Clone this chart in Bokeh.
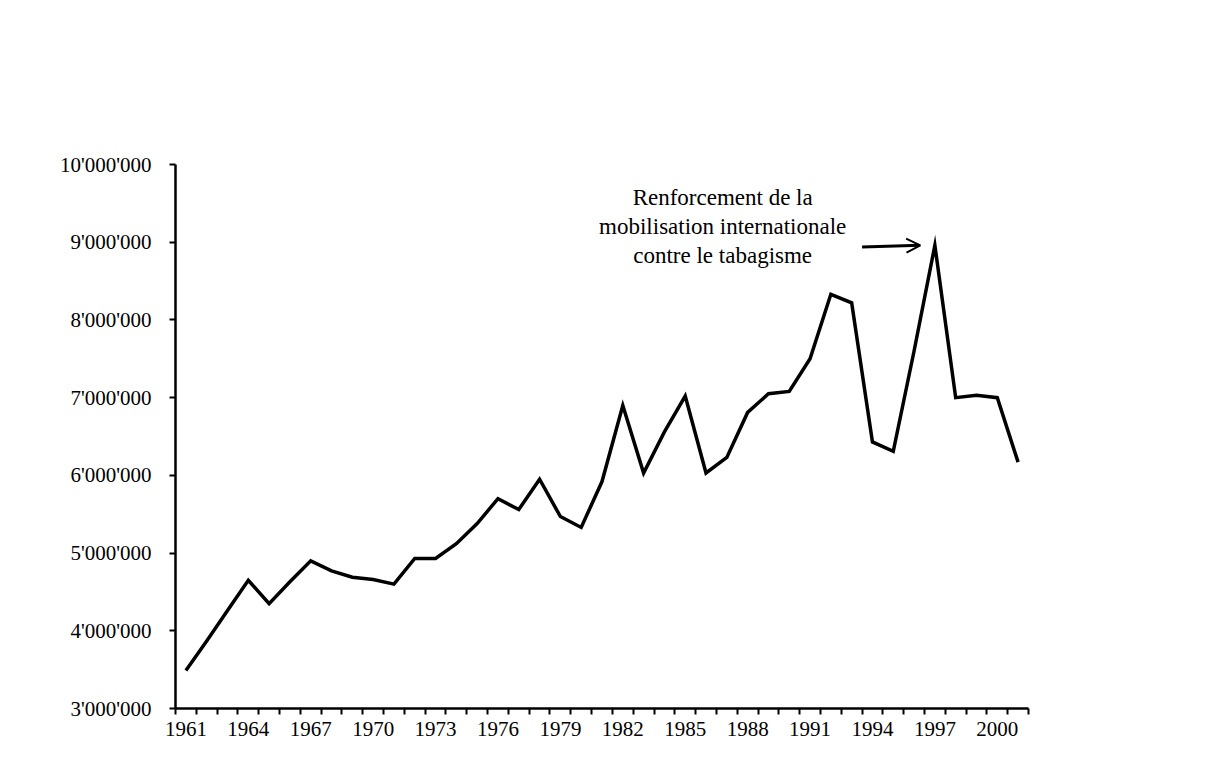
from bokeh.plotting import figure
from bokeh.models import Range1d, FixedTicker, Arrow, OpenHead
from bokeh.core.properties import value
from bokeh.embed import file_html
from bokeh.resources import INLINE

# ---- data ----
years = list(range(1961, 2002))
values = [3.49e6, 3.87e6, 4.26e6, 4.65e6, 4.35e6, 4.63e6, 4.90e6, 4.77e6, 4.69e6, 4.66e6,
          4.60e6, 4.93e6, 4.93e6, 5.12e6, 5.38e6, 5.70e6, 5.56e6, 5.95e6, 5.47e6, 5.33e6,
          5.92e6, 6.90e6, 6.03e6, 6.56e6, 7.02e6, 6.03e6, 6.23e6, 6.81e6, 7.05e6, 7.08e6,
          7.50e6, 8.33e6, 8.22e6, 6.43e6, 6.31e6, 7.60e6, 8.96e6, 7.00e6, 7.03e6, 7.00e6,
          6.17e6]
x_tick_years = list(range(1961, 2001, 3))
y_ticks = [3e6, 4e6, 5e6, 6e6, 7e6, 8e6, 9e6, 10e6]
y_tick_labels = ["3'000'000", "4'000'000", "5'000'000", "6'000'000",
                 "7'000'000", "8'000'000", "9'000'000", "10'000'000"]
annotation_lines = ["Renforcement de la", "mobilisation internationale", "contre le tabagisme"]
annotation_x = [1986.8, 1986.8, 1986.8]
annotation_y = [9.577e6, 9.203e6, 8.830e6]
arrow_from = (1993.5, 8.94e6)
arrow_to = (1996.3, 8.96e6)

FONT = "Liberation Serif"

p = figure(frame_width=853, frame_height=544,
           min_border_left=175, min_border_right=150,
           min_border_top=164, min_border_bottom=40,
           output_backend="svg", toolbar_location=None,
           x_range=Range1d(years[0] - 0.5, years[-1] + 0.5),
           y_range=Range1d(y_ticks[0], y_ticks[-1]))
p.outline_line_color = None
p.grid.visible = False
p.background_fill_color = "white"
p.border_fill_color = "white"

p.line(years, values, line_color="black", line_width=3.5, line_join="miter")

# x axis: labels every 3 years at category centres, small ticks at category boundaries
xa = p.xaxis[0]
xa.ticker = FixedTicker(ticks=x_tick_years,
                        minor_ticks=[y - 0.5 for y in years] + [years[-1] + 0.5])
xa.major_tick_out = 0
xa.major_tick_in = 0
xa.minor_tick_out = 6
xa.minor_tick_in = 0
xa.minor_tick_line_color = "black"
xa.minor_tick_line_width = 2
xa.axis_line_width = 2.5
xa.axis_line_color = "black"
xa.major_label_text_font = FONT
xa.major_label_text_font_size = "21px"
xa.major_label_text_color = "black"
xa.major_label_standoff = 7

ya = p.yaxis[0]
ya.ticker = FixedTicker(ticks=y_ticks)
ya.major_label_overrides = {t: lab for t, lab in zip(y_ticks, y_tick_labels)}
ya.major_tick_out = 6
ya.major_tick_in = 0
ya.major_tick_line_width = 2
ya.minor_tick_out = 0
ya.minor_tick_in = 0
ya.axis_line_width = 2.5
ya.axis_line_color = "black"
ya.major_label_text_font = FONT
ya.major_label_text_font_size = "21px"
ya.major_label_text_color = "black"
ya.major_label_standoff = 18

p.text(annotation_x, annotation_y, text=annotation_lines,
       text_font=value(FONT), text_font_size="23px", text_color="black",
       text_align="center", text_baseline="middle")

p.add_layout(Arrow(end=OpenHead(size=14, line_width=2, line_color="black"),
                   x_start=arrow_from[0], y_start=arrow_from[1],
                   x_end=arrow_to[0], y_end=arrow_to[1],
                   line_width=3, line_color="black"))

open("out.html", "w").write(file_html(p, INLINE))
